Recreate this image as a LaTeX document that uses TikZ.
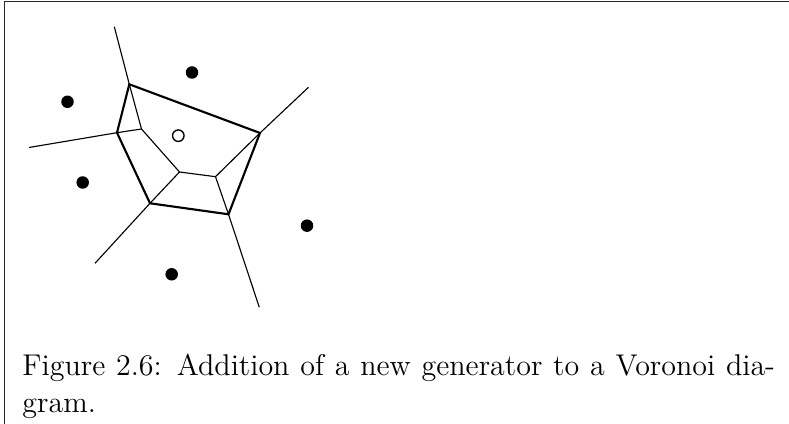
\documentclass[tikz,border=0pt]{standalone}
\begin{document}
\begin{tikzpicture}[x=0.4pt,y=-0.4pt,
  frame/.style={line width=0.5pt, draw=black!85},
  edge/.style={line width=0.45pt},
  hull/.style={line width=0.85pt, line join=miter},
  gen/.style={circle, fill=black, inner sep=0pt, minimum size=5pt},
  newgen/.style={circle, draw=black, line width=0.55pt, fill=white, inner sep=0pt, minimum size=4.6pt},
  caption/.style={anchor=north west, inner sep=0pt, text width=301pt, align=justify, font=\fontsize{12}{14.5}\selectfont}]
\useasboundingbox (0,0) rectangle (789,424);
% frame (top and left edges)
\coordinate (fr1) at (789,1.5);
\coordinate (fr2) at (4.5,1.5);
\coordinate (fr3) at (4.5,424);
\draw[frame] (fr1) -- (fr2) -- (fr3);
% Voronoi vertices
\coordinate (A) at (129.3,84.3);
\coordinate (B) at (260,133);
\coordinate (C) at (228.5,214.3);
\coordinate (D) at (150,203.3);
\coordinate (E) at (117,132.7);
\coordinate (F) at (141.5,129);
\coordinate (G) at (179.5,172);
\coordinate (H) at (215.5,176.7);
% ray ends
\coordinate (ra) at (114.3,26.7);
\coordinate (rb) at (308.5,87.3);
\coordinate (rc) at (259.3,307.3);
\coordinate (rd) at (95,263.3);
\coordinate (re) at (29,147.5);
% thin edges
\draw[edge] (ra) -- (A) -- (F) -- (G) -- (H) -- (B) -- (rb);
\draw[edge] (E) -- (F);
\draw[edge] (re) -- (E);
\draw[edge] (D) -- (G);
\draw[edge] (rd) -- (D);
\draw[edge] (H) -- (C) -- (rc);
% new cell
\draw[hull] (A) -- (B) -- (C) -- (D) -- (E) -- cycle;
% generators
\node[gen] (g1) at (192,72.5) {};
\node[gen] (g2) at (67.5,101.8) {};
\node[gen] (g3) at (82.7,182.5) {};
\node[gen] (g4) at (307,225.7) {};
\node[gen] (g5) at (171.7,274.3) {};
\node[newgen] (g0) at (178.3,135.7) {};
% caption
\node[caption] (cap) at (22,354) {Figure 2.6: Addition of a new generator to a Voronoi dia-\linebreak gram.};
\end{tikzpicture}
\end{document}
